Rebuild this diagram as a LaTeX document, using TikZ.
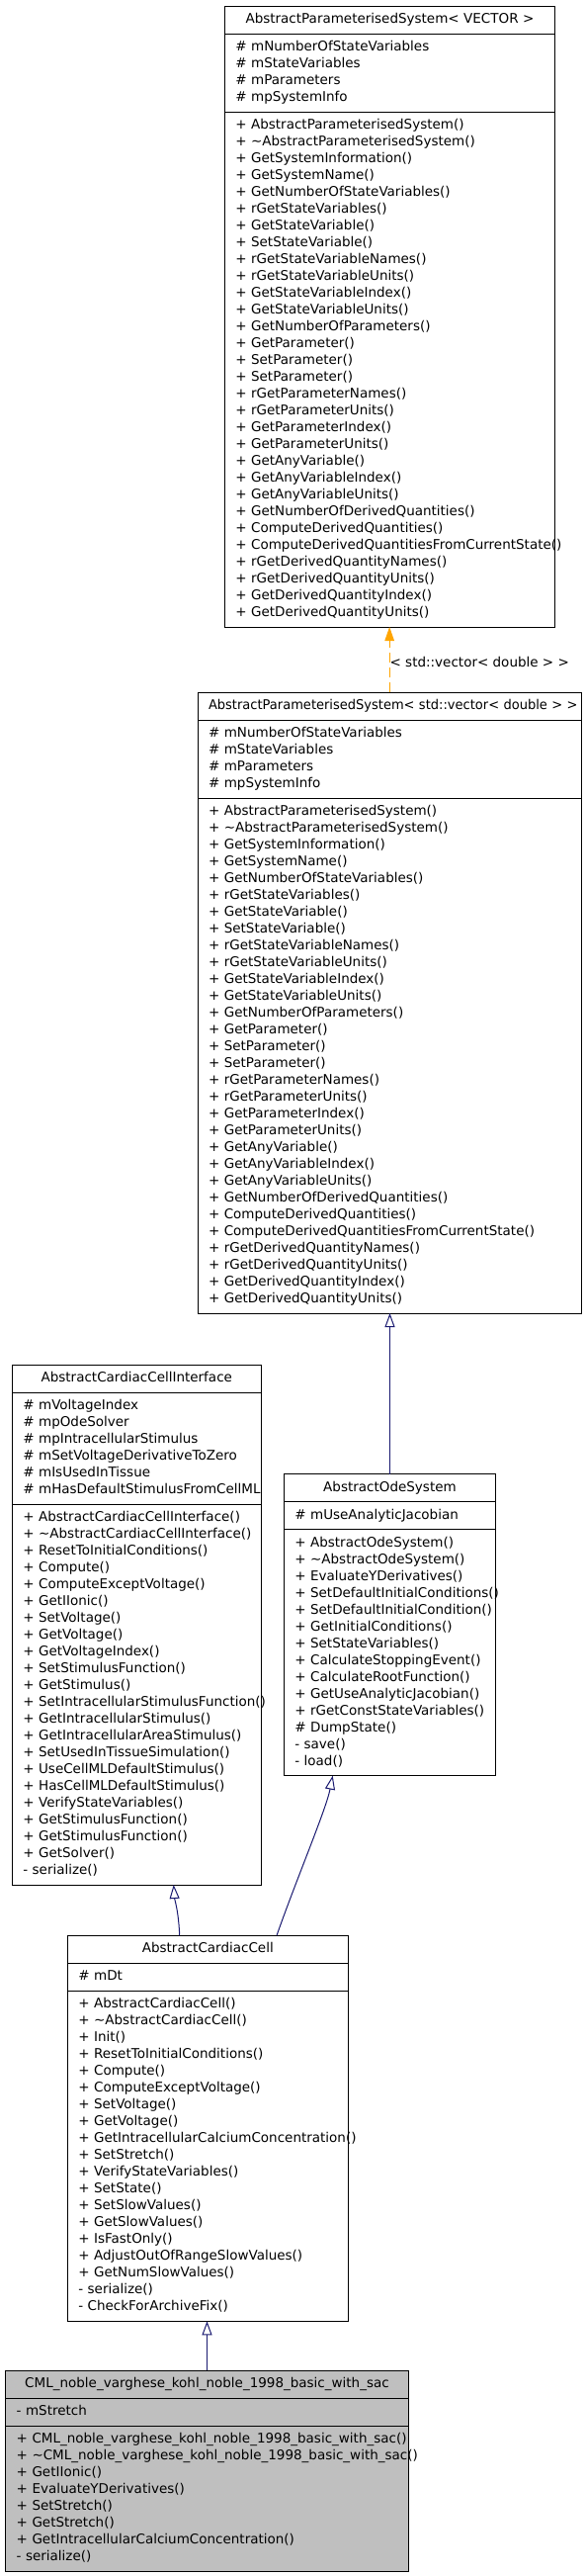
\documentclass[tikz,border=0pt]{standalone}
\usepackage{fontspec}
\usepackage{graphicx}
\setmainfont{DejaVu Sans}
\usetikzlibrary{arrows.meta,calc}
\definecolor{edgeblue}{HTML}{191970}
\definecolor{edgeorange}{HTML}{FFA500}
\definecolor{boxgray}{HTML}{BFBFBF}
\newcommand{\umlfont}{\fontsize{13.5pt}{17pt}\selectfont}
\newcommand{\mline}[1]{\mbox{\vrule height 12pt depth 5pt width 0pt #1}}
\newcommand{\apsattrs}{\mline{\# mNumberOfStateVariables}\\\mline{\# mStateVariables}\\\mline{\# mParameters}\\\mline{\# mpSystemInfo}}
\newcommand{\apsmethods}{%
\mline{+ AbstractParameterisedSystem()}\\
\mline{+ \textasciitilde AbstractParameterisedSystem()}\\
\mline{+ GetSystemInformation()}\\
\mline{+ GetSystemName()}\\
\mline{+ GetNumberOfStateVariables()}\\
\mline{+ rGetStateVariables()}\\
\mline{+ GetStateVariable()}\\
\mline{+ SetStateVariable()}\\
\mline{+ rGetStateVariableNames()}\\
\mline{+ rGetStateVariableUnits()}\\
\mline{+ GetStateVariableIndex()}\\
\mline{+ GetStateVariableUnits()}\\
\mline{+ GetNumberOfParameters()}\\
\mline{+ GetParameter()}\\
\mline{+ SetParameter()}\\
\mline{+ SetParameter()}\\
\mline{+ rGetParameterNames()}\\
\mline{+ rGetParameterUnits()}\\
\mline{+ GetParameterIndex()}\\
\mline{+ GetParameterUnits()}\\
\mline{+ GetAnyVariable()}\\
\mline{+ GetAnyVariableIndex()}\\
\mline{+ GetAnyVariableUnits()}\\
\mline{+ GetNumberOfDerivedQuantities()}\\
\mline{+ ComputeDerivedQuantities()}\\
\mline{+ ComputeDerivedQuantitiesFromCurrentState()}\\
\mline{+ rGetDerivedQuantityNames()}\\
\mline{+ rGetDerivedQuantityUnits()}\\
\mline{+ GetDerivedQuantityIndex()}\\
\mline{+ GetDerivedQuantityUnits()}}
\tikzset{
  secbox/.style={draw=black, line width=1pt, anchor=north west, outer sep=0pt,
    inner xsep=11pt, inner ysep=0pt, font=\umlfont},
  titlebox/.style={secbox, align=center, minimum height=28pt},
  listbox/.style={secbox, align=left},
  inh/.style={draw=edgeblue, line width=1pt, -{Triangle[open, length=14pt, width=10pt]}},
  tmplinst/.style={draw=edgeorange, line width=1pt, dash pattern=on 10pt off 5pt,
    -{Triangle[length=14pt, width=9.5pt]}},
}
\begin{document}
\begin{tikzpicture}[x=1pt,y=-1pt]
\useasboundingbox (0,0) rectangle (592,2605);
\fill[white] (0,0) rectangle (592,2605);
% AbstractParameterisedSystem< VECTOR >
\node[titlebox, text width=312.4pt] (tmplT) at (227.3,6) {\mline{AbstractParameterisedSystem< VECTOR >}};
\node[listbox, text width=312.4pt, minimum height=79pt] (tmplA) at (227.3,34) {\apsattrs};
\node[listbox, text width=312.4pt, minimum height=521pt] (tmplM) at (227.3,113) {\apsmethods};
% AbstractParameterisedSystem< std::vector< double > >
\node[titlebox, text width=366.3pt] (vecT) at (200,700) {\mline{\scalebox{0.965}[1]{AbstractParameterisedSystem< std::vector< double > >}}};
\node[listbox, text width=366.3pt, minimum height=79pt] (vecA) at (200,728) {\apsattrs};
\node[listbox, text width=366.3pt, minimum height=521pt] (vecM) at (200,807) {\apsmethods};
% AbstractCardiacCellInterface
\node[titlebox, text width=230pt] (ifaceT) at (12.3,1380) {\mline{AbstractCardiacCellInterface}};
\node[listbox, text width=230pt, minimum height=113pt] (ifaceA) at (12.3,1408) {%
\mline{\# mVoltageIndex}\\
\mline{\# mpOdeSolver}\\
\mline{\# mpIntracellularStimulus}\\
\mline{\# mSetVoltageDerivativeToZero}\\
\mline{\# mIsUsedInTissue}\\
\mline{\# mHasDefaultStimulusFromCellML}};
\node[listbox, text width=230pt, minimum height=385pt] (ifaceM) at (12.3,1521) {%
\mline{+ AbstractCardiacCellInterface()}\\
\mline{+ \textasciitilde AbstractCardiacCellInterface()}\\
\mline{+ ResetToInitialConditions()}\\
\mline{+ Compute()}\\
\mline{+ ComputeExceptVoltage()}\\
\mline{+ GetIIonic()}\\
\mline{+ SetVoltage()}\\
\mline{+ GetVoltage()}\\
\mline{+ GetVoltageIndex()}\\
\mline{+ SetStimulusFunction()}\\
\mline{+ GetStimulus()}\\
\mline{+ SetIntracellularStimulusFunction()}\\
\mline{+ GetIntracellularStimulus()}\\
\mline{+ GetIntracellularAreaStimulus()}\\
\mline{+ SetUsedInTissueSimulation()}\\
\mline{+ UseCellMLDefaultStimulus()}\\
\mline{+ HasCellMLDefaultStimulus()}\\
\mline{+ VerifyStateVariables()}\\
\mline{+ GetStimulusFunction()}\\
\mline{+ GetStimulusFunction()}\\
\mline{+ GetSolver()}\\
\mline{- serialize()}};
% AbstractOdeSystem
\node[titlebox, text width=192.4pt] (odeT) at (287.3,1490.7) {\mline{AbstractOdeSystem}};
\node[listbox, text width=192.4pt, minimum height=28pt] (odeA) at (287.3,1518.7) {\mline{\# mUseAnalyticJacobian}};
\node[listbox, text width=192.4pt, minimum height=249pt] (odeM) at (287.3,1546.7) {%
\mline{+ AbstractOdeSystem()}\\
\mline{+ \textasciitilde AbstractOdeSystem()}\\
\mline{+ EvaluateYDerivatives()}\\
\mline{+ SetDefaultInitialConditions()}\\
\mline{+ SetDefaultInitialCondition()}\\
\mline{+ GetInitialConditions()}\\
\mline{+ SetStateVariables()}\\
\mline{+ CalculateStoppingEvent()}\\
\mline{+ CalculateRootFunction()}\\
\mline{+ GetUseAnalyticJacobian()}\\
\mline{+ rGetConstStateVariables()}\\
\mline{\# DumpState()}\\
\mline{- save()}\\
\mline{- load()}};
% AbstractCardiacCell
\node[titlebox, text width=262pt] (cellT) at (68.3,1957.3) {\mline{AbstractCardiacCell}};
\node[listbox, text width=262pt, minimum height=28pt] (cellA) at (68.3,1985.3) {\mline{\# mDt}};
\node[listbox, text width=262pt, minimum height=334pt] (cellM) at (68.3,2013.3) {%
\mline{+ AbstractCardiacCell()}\\
\mline{+ \textasciitilde AbstractCardiacCell()}\\
\mline{+ Init()}\\
\mline{+ ResetToInitialConditions()}\\
\mline{+ Compute()}\\
\mline{+ ComputeExceptVoltage()}\\
\mline{+ SetVoltage()}\\
\mline{+ GetVoltage()}\\
\mline{+ GetIntracellularCalciumConcentration()}\\
\mline{+ SetStretch()}\\
\mline{+ VerifyStateVariables()}\\
\mline{+ SetState()}\\
\mline{+ SetSlowValues()}\\
\mline{+ GetSlowValues()}\\
\mline{+ IsFastOnly()}\\
\mline{+ AdjustOutOfRangeSlowValues()}\\
\mline{+ GetNumSlowValues()}\\
\mline{- serialize()}\\
\mline{- CheckForArchiveFix()}};
% CML_noble_varghese_kohl_noble_1998_basic_with_sac
\node[titlebox, fill=boxgray, text width=385.6pt] (cmlT) at (5.7,2397.3) {\mline{CML\_noble\_varghese\_kohl\_noble\_1998\_basic\_with\_sac}};
\node[listbox, fill=boxgray, text width=385.6pt, minimum height=28pt] (cmlA) at (5.7,2425.3) {\mline{- mStretch}};
\node[listbox, fill=boxgray, text width=385.6pt, minimum height=147pt] (cmlM) at (5.7,2453.3) {%
\mline{+ CML\_noble\_varghese\_kohl\_noble\_1998\_basic\_with\_sac()}\\
\mline{+ \textasciitilde CML\_noble\_varghese\_kohl\_noble\_1998\_basic\_with\_sac()}\\
\mline{+ GetIIonic()}\\
\mline{+ EvaluateYDerivatives()}\\
\mline{+ SetStretch()}\\
\mline{+ GetStretch()}\\
\mline{+ GetIntracellularCalciumConcentration()}\\
\mline{- serialize()}};
% connectors
\draw[tmplinst] (vecT.north) -- node[pos=0.47, anchor=west, inner sep=0pt, font=\umlfont] (lbl) {< std::vector< double > >} (vecT.north |- tmplM.south);
\draw[inh] (odeT.north) -- (odeT.north |- vecM.south);
\draw[inh] ([xshift=113.4pt]cellT.north west) .. controls +(-1,-25) and +(1,15) .. ([xshift=163.4pt]ifaceM.south west);
\draw[inh] ([xshift=211.7pt]cellT.north west) .. controls +(20,-57) and +(-6.7,34) .. ([xshift=49.4pt]odeM.south west);
\draw[inh] (cmlT.north) -- (cmlT.north |- cellM.south);
\end{tikzpicture}
\end{document}
